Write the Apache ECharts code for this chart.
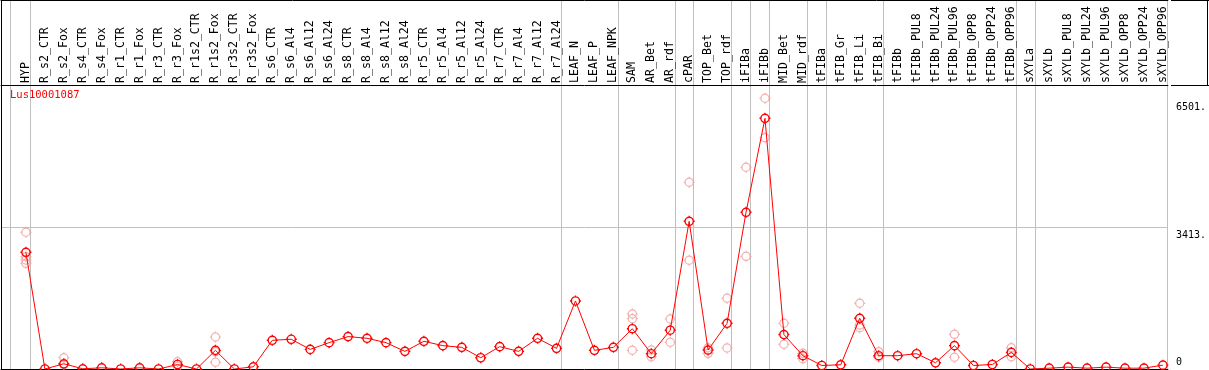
<!DOCTYPE html>
<html>
<head>
<meta charset="utf-8">
<script src="https://cdn.jsdelivr.net/npm/echarts@6/dist/echarts.min.js"></script>
<style>
html,body{margin:0;padding:0;background:#fff;}
#chart{width:1209px;height:370px;}
</style>
</head>
<body>
<div id="chart"></div>
<script>
const categories = ['HYP','R_s2_CTR','R_s2_Fox','R_s4_CTR','R_s4_Fox','R_r1_CTR','R_r1_Fox','R_r3_CTR','R_r3_Fox',
  'R_r1s2_CTR','R_r1s2_Fox','R_r3s2_CTR','R_r3s2_Fox','R_s6_CTR','R_s6_Al4','R_s6_Al12','R_s6_Al24',
  'R_s8_CTR','R_s8_Al4','R_s8_Al12','R_s8_Al24','R_r5_CTR','R_r5_Al4','R_r5_Al12','R_r5_Al24',
  'R_r7_CTR','R_r7_Al4','R_r7_Al12','R_r7_Al24','LEAF_N','LEAF_P','LEAF_NPK','SAM','AR_Bet','AR_rdf',
  'cPAR','TOP_Bet','TOP_rdf','iFIBa','iFIBb','MID_Bet','MID_rdf','tFIBa','tFIB_Gr','tFIB_Li','tFIB_Bi',
  'tFIBb','tFIBb_PUL8','tFIBb_PUL24','tFIBb_PUL96','tFIBb_OPP8','tFIBb_OPP24','tFIBb_OPP96',
  'sXYLa','sXYLb','sXYLb_PUL8','sXYLb_PUL24','sXYLb_PUL96','sXYLb_OPP8','sXYLb_OPP24','sXYLb_OPP96'];

const meanValues = [2819, 0, 126, 5, 29, 0, 29, 0, 109, 0, 450, 0, 53, 693, 718, 474, 637,
  783, 742, 637, 426, 669, 564, 523, 272, 540, 426, 742, 499, 1643, 450, 523, 973, 370, 937,
  3568, 458, 1104, 3785, 6056, 832, 321, 85, 102, 1225, 321, 321, 370, 150, 564, 85, 109, 401,
  0, 20, 45, 20, 45, 20, 20, 93];

// replicate measurements per category (empty where hidden behind the mean marker)
const replicates = [[3302, 2713, 2633, 2553], [], [273, 105], [], [], [], [], [], [176, 60],
  [], [773, 162, 415], [], [], [], [], [], [],
  [], [], [], [], [], [], [], [],
  [], [], [], [], [], [], [], [1329, 1215, 452], [459, 297], [1208, 645],
  [4510, 2626], [514, 379], [1708, 507], [4872, 2722], [6539, 5587], [1104, 597], [379, 249], [], [], [1587, 1063, 998], [418, 283],
  [], [], [], [838, 283], [], [], [514, 297],
  [], [], [], [], [], [], [], []];

// index of the last category of each sample group
const groupEnds = [0, 28, 31, 34, 35, 37, 38, 39, 41, 42, 45, 52, 53, 60];

const yTicks = [0, 3413, 6501];
const yTickLabels = ['0', '3413.', '6501.'];
const geneName = 'Lus10001087';

const X_MIN = -25 / 19, X_MAX = (1171 - 26) / 19;
const Y_MAX = 369 / 0.0414;
const MONO = '"DejaVu Sans Mono", "Liberation Mono", monospace';
const MARK = 'path://M5.5 0L5.5 1.1M5.5 9.9L5.5 11M0 5.5L1.1 5.5M9.9 5.5L11 5.5' +
  'M9.6 5.5C9.6 7.76 7.76 9.6 5.5 9.6C3.24 9.6 1.4 7.76 1.4 5.5C1.4 3.24 3.24 1.4 5.5 1.4C7.76 1.4 9.6 3.24 9.6 5.5Z';

const meanData = meanValues.map((v, i) => [i, v]);
const repData = [];
replicates.forEach((arr, i) => arr.forEach(v => repData.push([i, v])));
const vLines = [{xAxis: -0.84}].concat(groupEnds.map(i => ({xAxis: i + 0.24})));

const chart = echarts.init(document.getElementById('chart'), null, {renderer: 'canvas'});
const plainAxis = (pos) => ({
  type: 'value', position: pos, min: X_MIN, max: X_MAX,
  axisLine: {show: true, onZero: false, lineStyle: {color: '#000', width: 1}},
  axisTick: {show: false}, axisLabel: {show: false}, splitLine: {show: false}
});
chart.setOption({
  animation: false,
  backgroundColor: '#fff',
  title: {
    text: geneName, left: 10, top: 90, padding: 0,
    textStyle: {color: '#ff0000', fontSize: 10.5, fontWeight: 'normal', fontFamily: MONO}
  },
  grid: {left: 1, right: 38, top: 0, bottom: 1},
  xAxis: [
    {
      type: 'value', position: 'top', offset: -85, min: X_MIN, max: X_MAX,
      axisLine: {show: true, onZero: false, lineStyle: {color: '#000', width: 1}},
      axisTick: {show: false}, splitLine: {show: false},
      axisLabel: {
        customValues: categories.map((c, i) => i),
        formatter: v => categories[v] || '',
        rotate: -90, margin: 2, color: '#000', fontSize: 11.6, fontFamily: MONO
      }
    },
    plainAxis('top'),
    plainAxis('bottom')
  ],
  yAxis: [
    {
      type: 'value', position: 'right', min: 0, max: Y_MAX,
      axisLine: {show: false, onZero: false}, axisTick: {show: false}, splitLine: {show: false},
      axisLabel: {
        customValues: [yTicks[1], yTicks[2]],
        formatter: v => yTickLabels[yTicks.indexOf(v)],
        verticalAlign: 'top', margin: 8, padding: [3, 0, 0, 0], color: '#000', fontSize: 10, fontFamily: MONO
      }
    },
    {
      type: 'value', position: 'right', min: 0, max: Y_MAX,
      axisLine: {show: false, onZero: false}, axisTick: {show: false}, splitLine: {show: false},
      axisLabel: {
        customValues: [yTicks[0]],
        formatter: v => yTickLabels[yTicks.indexOf(v)],
        verticalAlign: 'bottom', margin: 8, padding: [0, 0, 2, 0], color: '#000', fontSize: 10, fontFamily: MONO
      }
    },
    {
      type: 'value', position: 'left', min: 0, max: Y_MAX,
      axisLine: {show: true, onZero: false, lineStyle: {color: '#000', width: 1}},
      axisTick: {show: false}, axisLabel: {show: false}, splitLine: {show: false}
    }
  ],
  graphic: [
    {type: 'line', shape: {x1: 1171, y1: 0.5, x2: 1209, y2: 0.5}, style: {stroke: '#000', lineWidth: 1}},
    {type: 'line', shape: {x1: 1171, y1: 85.5, x2: 1209, y2: 85.5}, style: {stroke: '#000', lineWidth: 1}},
    {type: 'line', shape: {x1: 1207.5, y1: 0, x2: 1207.5, y2: 85.5}, style: {stroke: '#000', lineWidth: 1}}
  ],
  series: [
    {
      name: 'replicates', type: 'scatter', xAxisIndex: 0, yAxisIndex: 0,
      data: repData, symbol: MARK, symbolSize: 11, z: 1,
      itemStyle: {color: 'rgba(0,0,0,0)', borderColor: '#f09a9a', borderWidth: 1.2},
      silent: true
    },
    {
      name: 'mean', type: 'line', xAxisIndex: 0, yAxisIndex: 0,
      data: meanData, symbol: MARK, symbolSize: 11, showAllSymbol: true, z: 3,
      lineStyle: {color: '#ff0000', width: 1},
      itemStyle: {color: 'rgba(0,0,0,0)', borderColor: '#ff0000', borderWidth: 1.4},
      markLine: {
        silent: true, symbol: 'none', label: {show: false}, z: 0,
        lineStyle: {color: '#c0c0c0', width: 1, type: 'solid'},
        data: vLines.concat([{yAxis: yTicks[1]}])
      }
    }
  ]
});
</script>
</body>
</html>
